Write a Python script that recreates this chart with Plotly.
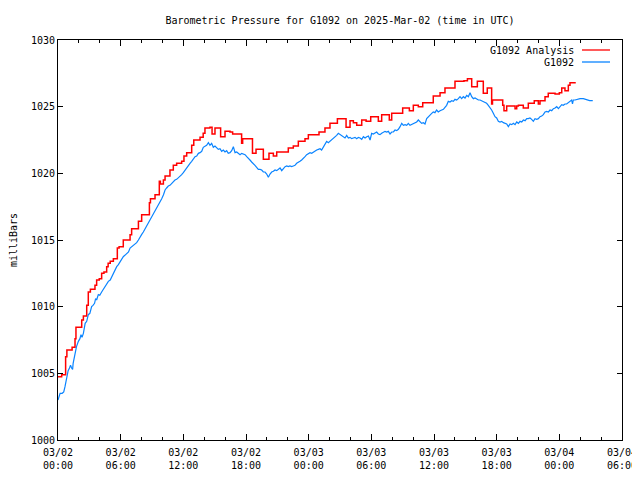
import pandas as pd
import plotly.graph_objects as go

BASE = "2025-03-02 00:00"

# G1092 Analysis (red, stepped) : hours after 03/02 00:00 UTC, millibars
red_hours = [0.0, 0.35, 0.73, 0.85, 1.35, 1.63, 1.72, 2.27, 2.43, 2.75, 2.9, 3.1, 3.54, 3.7, 3.95,
             4.18, 4.4, 4.66, 4.8, 5.0, 5.3, 5.68, 5.85, 6.25, 6.9, 7.05, 7.7, 8.01, 8.75, 8.85,
             9.29, 9.7, 9.8, 10.09, 10.25, 10.72, 11.04, 11.36, 11.84, 12.06, 12.32, 12.8, 13.0,
             13.6, 13.9, 14.07, 14.55, 14.75, 15.03, 15.57, 15.99, 16.47, 16.72, 17.58, 17.68,
             18.62, 18.96, 19.66, 20.2, 20.62, 20.94, 22.05, 22.53, 23.01, 23.65, 23.97, 24.99,
             25.56, 26.04, 26.75, 27.58, 27.96, 28.28, 28.6, 29.08, 29.5, 29.94, 30.67, 30.99,
             31.72, 31.95, 33.0, 33.64, 34.02, 34.5, 34.92, 35.93, 36.58, 37.05, 38.01, 38.87,
             39.2, 39.61, 40.15, 40.72, 41.1, 41.52, 41.6, 42.58, 42.7, 42.96, 43.76, 43.92,
             44.08, 44.55, 45.03, 45.6, 45.99, 46.15, 46.63, 46.94, 47.59, 48.0, 48.23, 48.54,
             48.86, 49.02, 49.5]
red_values = [1004.75, 1004.9, 1006.25, 1006.75, 1006.95, 1007.6, 1008.45, 1009.0, 1009.3, 1010.1,
              1011.1, 1011.3, 1011.6, 1012.0, 1012.1, 1012.5, 1012.6, 1013.0, 1013.25, 1013.4,
              1013.6, 1014.4, 1014.5, 1015.0, 1015.4, 1015.85, 1016.4, 1016.9, 1017.8, 1018.1,
              1018.4, 1019.4, 1019.2, 1019.5, 1019.8, 1020.25, 1020.6, 1020.75, 1020.9, 1021.3,
              1021.55, 1022.1, 1022.5, 1022.7, 1023.0, 1023.4, 1023.45, 1022.95, 1023.4, 1022.75,
              1023.15, 1023.1, 1022.95, 1022.25, 1022.6, 1021.5, 1021.8, 1021.05, 1021.5, 1021.3,
              1021.6, 1021.9, 1022.05, 1022.4, 1022.6, 1022.9, 1023.1, 1023.4, 1023.75, 1024.1,
              1023.45, 1023.95, 1023.8, 1023.6, 1024.0, 1023.9, 1024.25, 1023.9, 1024.4, 1024.0,
              1024.5, 1024.9, 1024.7, 1025.1, 1025.0, 1025.3, 1025.8, 1026.05, 1026.4, 1026.9,
              1026.95, 1027.1, 1026.5, 1026.9, 1026.0, 1026.4, 1025.2, 1025.5, 1025.1, 1024.7,
              1025.05, 1024.85, 1025.05, 1025.1, 1024.9, 1025.25, 1025.45, 1025.2, 1025.45,
              1025.75, 1026.0, 1025.95, 1026.05, 1026.4, 1026.2, 1026.6, 1026.8, 1026.85]

# G1092 observed (blue)
blue_hours = [0.0, 0.1, 0.2, 0.4, 0.55, 0.67, 0.8, 0.97, 1.1, 1.2, 1.3, 1.4, 1.45, 1.6, 1.77, 1.95,
              2.1, 2.2, 2.3, 2.43, 2.6, 2.75, 2.9, 3.05, 3.22, 3.35, 3.5, 3.6, 3.7, 3.86, 4.0, 4.18,
              4.35, 4.5, 4.66, 4.82, 5.0, 5.14, 5.3, 5.46, 5.62, 5.78, 5.95, 6.1, 6.25, 6.4, 6.58,
              6.75, 6.9, 7.05, 7.2, 7.37, 7.53, 7.7, 7.85, 8.0, 8.17, 8.35, 8.5, 8.65, 8.81, 8.97,
              9.13, 9.3, 9.45, 9.61, 9.77, 9.93, 10.1, 10.25, 10.4, 10.56, 10.72, 10.88, 11.04,
              11.2, 11.36, 11.52, 11.68, 11.84, 12.0, 12.16, 12.32, 12.48, 12.64, 12.8, 12.96,
              13.12, 13.28, 13.44, 13.6, 13.76, 13.91, 14.07, 14.23, 14.4, 14.55, 14.71, 14.87,
              15.03, 15.19, 15.35, 15.51, 15.67, 15.83, 15.99, 16.15, 16.3, 16.47, 16.63, 16.79,
              16.95, 17.11, 17.27, 17.43, 17.59, 17.75, 17.91, 18.07, 18.23, 18.38, 18.54, 18.7,
              18.86, 19.02, 19.18, 19.34, 19.5, 19.66, 19.82, 19.98, 20.1, 20.14, 20.3, 20.46,
              20.62, 20.78, 20.94, 21.1, 21.26, 21.42, 21.58, 21.74, 21.9, 22.05, 22.21, 22.37,
              22.53, 22.69, 22.85, 23.01, 23.17, 23.33, 23.49, 23.65, 23.81, 23.97, 24.13, 24.29,
              24.45, 24.61, 24.77, 24.93, 25.09, 25.24, 25.4, 25.56, 25.72, 25.88, 26.04, 26.2,
              26.36, 26.52, 26.68, 26.84, 27.0, 27.16, 27.32, 27.48, 27.64, 27.8, 27.96, 28.12,
              28.28, 28.44, 28.6, 28.76, 28.92, 29.08, 29.24, 29.4, 29.56, 29.72, 29.88, 29.94,
              30.03, 30.19, 30.35, 30.51, 30.67, 30.83, 30.99, 31.15, 31.31, 31.47, 31.63, 31.79,
              31.95, 32.11, 32.27, 32.43, 32.59, 32.75, 32.91, 33.07, 33.23, 33.39, 33.54, 33.7,
              33.86, 34.02, 34.18, 34.34, 34.5, 34.66, 34.82, 34.98, 35.14, 35.3, 35.46, 35.62,
              35.78, 35.93, 36.09, 36.25, 36.41, 36.58, 36.74, 36.9, 37.05, 37.21, 37.37, 37.53,
              37.69, 37.85, 38.01, 38.17, 38.33, 38.49, 38.65, 38.81, 38.97, 39.13, 39.29, 39.45,
              39.61, 39.77, 39.93, 40.09, 40.25, 40.41, 40.57, 40.72, 40.88, 41.04, 41.2, 41.36,
              41.52, 41.68, 41.84, 42.0, 42.16, 42.32, 42.48, 42.64, 42.8, 42.96, 43.12, 43.28,
              43.44, 43.6, 43.76, 43.92, 44.08, 44.24, 44.4, 44.56, 44.72, 44.88, 45.03, 45.19,
              45.35, 45.51, 45.67, 45.83, 45.99, 46.15, 46.31, 46.47, 46.63, 46.79, 46.95, 47.11,
              47.27, 47.43, 47.59, 47.75, 47.91, 48.07, 48.23, 48.38, 48.54, 48.7, 48.86, 49.02,
              49.18, 49.26, 49.34, 49.5, 49.66, 49.82, 49.98, 50.3, 50.46, 50.62, 50.9, 51.2]
blue_values = [1003.0, 1003.3, 1003.5, 1003.5, 1003.6, 1004.0, 1004.5, 1005.2, 1005.4, 1005.6,
               1005.4, 1005.3, 1005.75, 1006.5, 1007.0, 1007.4, 1007.6, 1007.9, 1007.7, 1008.0,
               1008.75, 1008.9, 1009.4, 1009.5, 1010.0, 1010.1, 1010.25, 1010.6, 1010.5, 1010.9,
               1010.85, 1011.1, 1011.3, 1011.5, 1011.7, 1011.9, 1012.0, 1012.25, 1012.5, 1012.75,
               1013.0, 1013.15, 1013.4, 1013.55, 1013.75, 1013.85, 1014.0, 1014.1, 1014.4, 1014.5,
               1014.55, 1014.65, 1014.8, 1015.0, 1015.25, 1015.4, 1015.6, 1015.85, 1016.1, 1016.3,
               1016.5, 1016.75, 1017.0, 1017.2, 1017.45, 1017.6, 1017.9, 1018.1, 1018.4, 1018.75,
               1018.9, 1019.05, 1019.1, 1019.25, 1019.35, 1019.5, 1019.55, 1019.65, 1019.75,
               1019.9, 1020.05, 1020.25, 1020.4, 1020.55, 1020.75, 1020.9, 1021.05, 1021.25,
               1021.3, 1021.5, 1021.55, 1021.65, 1021.95, 1022.05, 1022.1, 1022.3, 1022.1,
               1022.25, 1021.95, 1022.05, 1021.95, 1021.8, 1021.85, 1021.65, 1021.75, 1021.6,
               1021.7, 1021.5, 1021.55, 1021.7, 1022.0, 1021.55, 1021.6, 1021.5, 1021.4, 1021.5,
               1021.45, 1021.4, 1021.25, 1021.15, 1021.0, 1020.85, 1020.75, 1020.6, 1020.45,
               1020.3, 1020.3, 1020.25, 1020.1, 1020.1, 1019.95, 1019.8, 1019.7, 1019.95, 1020.1,
               1020.15, 1020.25, 1020.2, 1020.3, 1020.4, 1020.2, 1020.4, 1020.5, 1020.55, 1020.5,
               1020.55, 1020.5, 1020.55, 1020.6, 1020.75, 1020.8, 1020.9, 1021.0, 1021.1, 1021.25,
               1021.4, 1021.5, 1021.55, 1021.5, 1021.6, 1021.7, 1021.75, 1021.8, 1021.85, 1021.75,
               1022.0, 1022.15, 1022.4, 1022.3, 1022.4, 1022.55, 1022.6, 1022.7, 1022.85, 1023.0,
               1022.9, 1022.8, 1022.7, 1022.65, 1022.85, 1022.65, 1022.7, 1022.6, 1022.65, 1022.7,
               1022.6, 1022.7, 1022.65, 1022.55, 1022.75, 1022.65, 1022.75, 1022.8, 1022.5,
               1022.85, 1023.0, 1022.95, 1023.05, 1023.1, 1022.95, 1022.9, 1023.0, 1023.1, 1023.15,
               1023.1, 1023.15, 1022.95, 1023.1, 1023.1, 1023.25, 1023.2, 1023.3, 1023.5, 1023.75,
               1023.6, 1023.65, 1023.6, 1023.75, 1023.6, 1023.65, 1023.75, 1023.8, 1023.85,
               1024.0, 1023.85, 1023.75, 1023.8, 1023.7, 1024.1, 1024.25, 1024.35, 1024.5, 1024.6,
               1024.55, 1024.75, 1024.6, 1024.7, 1024.75, 1024.8, 1024.95, 1025.1, 1025.4,
               1025.35, 1025.45, 1025.4, 1025.55, 1025.5, 1025.6, 1025.75, 1025.6, 1025.75,
               1025.65, 1025.85, 1025.75, 1026.05, 1025.75, 1025.6, 1025.65, 1025.55, 1025.5,
               1025.5, 1025.45, 1025.4, 1025.3, 1025.25, 1025.1, 1024.95, 1024.75, 1024.5,
               1024.25, 1024.15, 1023.9, 1023.85, 1023.9, 1023.8, 1023.75, 1023.7, 1023.5,
               1023.7, 1023.65, 1023.75, 1023.65, 1023.85, 1023.75, 1023.9, 1023.85, 1024.0,
               1023.95, 1024.1, 1024.1, 1024.15, 1024.05, 1023.9, 1024.1, 1024.05, 1024.1,
               1024.25, 1024.3, 1024.4, 1024.6, 1024.65, 1024.6, 1024.75, 1024.7, 1024.85, 1024.9,
               1025.0, 1024.85, 1025.05, 1025.15, 1025.1, 1025.2, 1025.2, 1025.3, 1025.4, 1025.5,
               1025.2, 1025.5, 1025.5, 1025.55, 1025.6, 1025.6, 1025.6, 1025.55, 1025.5, 1025.45,
               1025.45]

tick_hours = [0, 6, 12, 18, 24, 30, 36, 42, 48, 54]
tick_labels = ["03/02<br>00:00", "03/02<br>06:00", "03/02<br>12:00", "03/02<br>18:00",
               "03/03<br>00:00", "03/03<br>06:00", "03/03<br>12:00", "03/03<br>18:00",
               "03/04<br>00:00", "03/04<br>06:00"]
y_ticks = [1000, 1005, 1010, 1015, 1020, 1025, 1030]

RED = "#ff0000"
BLUE = "#0a84ff"
FONT = "DejaVu Sans Mono"

base = pd.Timestamp(BASE)
def to_time(hours):
    return [base + pd.Timedelta(hours=h) for h in hours]

fig = go.Figure()
fig.add_trace(go.Scatter(x=to_time(red_hours), y=red_values, mode="lines",
                         line=dict(color=RED, width=1.5, shape="hv"), name="G1092 Analysis"))
fig.add_trace(go.Scatter(x=to_time(blue_hours), y=blue_values, mode="lines",
                         line=dict(color=BLUE, width=1.2), name="G1092"))

# The page body adds an 8px offset; size the figure so the plot lands where it should.
OFF = 8
W, H = 640 - OFF, 480 - OFF
L, R, T, B = 58 - OFF, 18, 40 - OFF, 40
pw, ph = W - L - R, H - T - B

def px_x(x):
    return (x - OFF - L) / pw
def px_y(y):
    return 1 - (y - OFF - T) / ph

# gnuplot-style key (text right, line sample on the right)
legend_items = [("G1092 Analysis", RED, 50), ("G1092", BLUE, 62)]
for label, col, yy in legend_items:
    fig.add_annotation(x=px_x(576), y=px_y(yy), xref="paper", yref="paper", text=label,
                       showarrow=False, xanchor="right", yanchor="middle",
                       font=dict(family=FONT, size=10, color="black"))
    fig.add_shape(type="line", xref="paper", yref="paper", x0=px_x(582), x1=px_x(610),
                  y0=px_y(yy), y1=px_y(yy), line=dict(color=col, width=1.3))

fig.update_layout(
    width=W, height=H,
    margin=dict(l=L, r=R, t=T, b=B),
    paper_bgcolor="white", plot_bgcolor="white",
    showlegend=False,
    font=dict(family=FONT, size=10, color="black"),
    title=dict(text="Barometric Pressure for G1092 on 2025-Mar-02 (time in UTC)",
               x=px_x(340), xanchor="center", y=1 - (20 - OFF) / H, yanchor="middle",
               xref="paper", yref="container",
               font=dict(family=FONT, size=10, color="black")),
)
fig.update_xaxes(
    type="date", automargin=False,
    range=[base, base + pd.Timedelta(hours=54)],
    tickvals=to_time(tick_hours), ticktext=tick_labels,
    showgrid=False, zeroline=False,
    showline=True, linecolor="black", linewidth=1, mirror="ticks",
    ticks="inside", ticklen=6, tickcolor="black", ticklabelstandoff=3,
    minor=dict(ticks="inside", ticklen=3, dtick=2 * 3600 * 1000, tickcolor="black", showgrid=False),
    tickfont=dict(family=FONT, size=10),
)
fig.update_yaxes(
    automargin=False,
    range=[1000, 1030],
    tickvals=y_ticks,
    showgrid=False, zeroline=False,
    showline=True, linecolor="black", linewidth=1, mirror="ticks",
    ticks="inside", ticklen=5, tickcolor="black",
    tickfont=dict(family=FONT, size=10),
    title=dict(text="milliBars", standoff=14, font=dict(family=FONT, size=10)),
)

fig.write_html("out.html")
